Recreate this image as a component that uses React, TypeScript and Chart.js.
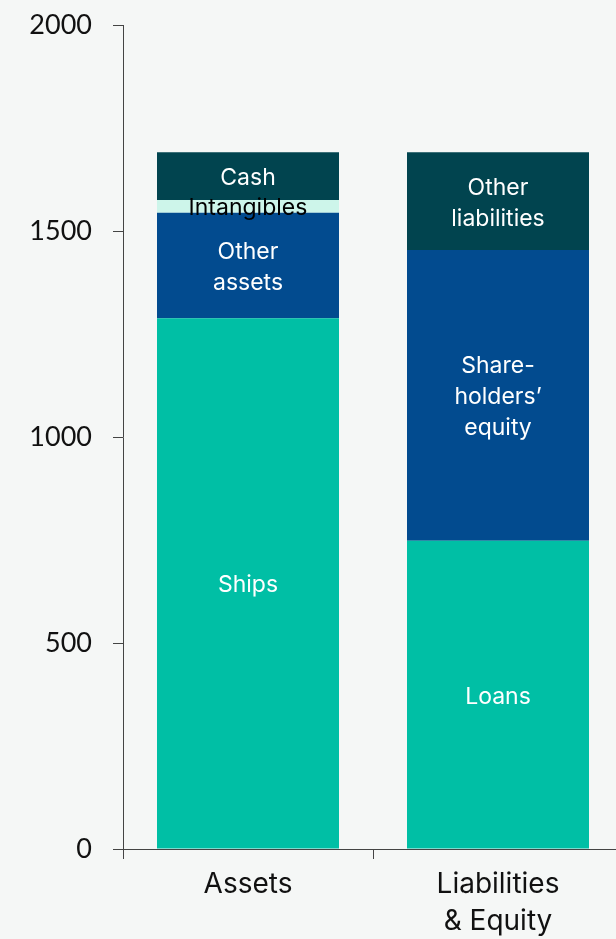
import React, { useEffect, useRef } from "react";
import { Chart, registerables } from "chart.js";

Chart.register(...registerables);

const categories: string[][] = [["Assets"], ["Liabilities", "& Equity"]];
const bottomSeg = [1288, 748];
const middleSeg = [256, 706];
const mintSeg = [31, 0];
const topSeg = [116, 237];

const bottomLabels = ["Ships", "Loans"];
const middleLabels = ["Other\nassets", "Share-\nholders’\nequity"];
const mintLabels = ["Intangibles", ""];
const topLabels = ["Cash", "Other\nliabilities"];

const yTicks = [0, 500, 1000, 1500, 2000];

const BG = "#f5f7f6";
const TEAL = "#00bfa5";
const BLUE = "#024b8f";
const MINT = "#cdf5ea";
const DARK = "#01444f";

const segLabelPlugin = {
  id: "segLabels",
  afterDatasetsDraw(chart: any) {
    const ctx = chart.ctx;
    chart.data.datasets.forEach((ds: any, di: number) => {
      const meta = chart.getDatasetMeta(di);
      meta.data.forEach((el: any, i: number) => {
        const txt: string = ds.segLabels[i];
        if (!txt) return;
        const lines = txt.split("\n");
        const cy = (el.y + el.base) / 2 + 2;
        const lh = 31;
        ctx.save();
        ctx.font = "23px Inter";
        ctx.fillStyle = ds.labelColor;
        ctx.textAlign = "center";
        ctx.textBaseline = "middle";
        lines.forEach((ln: string, k: number) => {
          ctx.fillText(ln, el.x, cy + (k - (lines.length - 1) / 2) * lh);
        });
        ctx.restore();
      });
    });
  },
};

export default function App() {
  const ref = useRef<HTMLCanvasElement>(null);
  useEffect(() => {
    if (!ref.current) return;
    const mk = (label: string, data: number[], color: string, segLabels: string[], labelColor: string) => ({
      label,
      data,
      backgroundColor: color,
      borderWidth: 0,
      segLabels,
      labelColor,
      barPercentage: 0.728,
      categoryPercentage: 1,
    });
    const chart = new Chart(ref.current, {
      type: "bar",
      data: {
        labels: categories,
        datasets: [
          mk("bottom", bottomSeg, TEAL, bottomLabels, "#ffffff"),
          mk("middle", middleSeg, BLUE, middleLabels, "#ffffff"),
          mk("mint", mintSeg, MINT, mintLabels, "#000000"),
          mk("top", topSeg, DARK, topLabels, "#ffffff"),
        ] as any,
      },
      options: {
        animation: false,
        responsive: false,
        devicePixelRatio: 1,
        layout: { padding: { top: 25, right: 1, left: 0, bottom: 0 } },
        plugins: { legend: { display: false }, tooltip: { enabled: false } },
        scales: {
          x: {
            stacked: true,
            grid: { drawOnChartArea: false, tickLength: 10, color: "#444", offset: true },
            border: { color: "#444", width: 1 },
            ticks: { color: "#111", font: { family: "Inter", size: 28, lineHeight: 1.29 }, padding: 8 },
            afterFit: (s: any) => { s.height = 90; s.paddingLeft = 0; s.paddingRight = 0; },
          },
          y: {
            stacked: true,
            min: 0,
            max: 2000,
            afterBuildTicks: (s: any) => { s.ticks = yTicks.map((v) => ({ value: v })); },
            grid: { drawOnChartArea: false, tickLength: 10, color: "#444" },
            border: { color: "#444", width: 1 },
            ticks: {
              color: "#111",
              font: { family: "Lato", size: 27 },
              padding: 21,
              callback: (v: any) => String(v),
            },
            afterFit: (s: any) => { s.width = 123; s.paddingTop = 0; s.paddingBottom = 0; },
          },
        },
      },
      plugins: [segLabelPlugin],
    });
    return () => chart.destroy();
  }, []);
  return (
    <div style={{ position: "fixed", left: 0, top: 0, width: 616, height: 939, overflow: "hidden", background: BG }}>
      <canvas ref={ref} width={624} height={939} style={{ display: "block" }} />
    </div>
  );
}
